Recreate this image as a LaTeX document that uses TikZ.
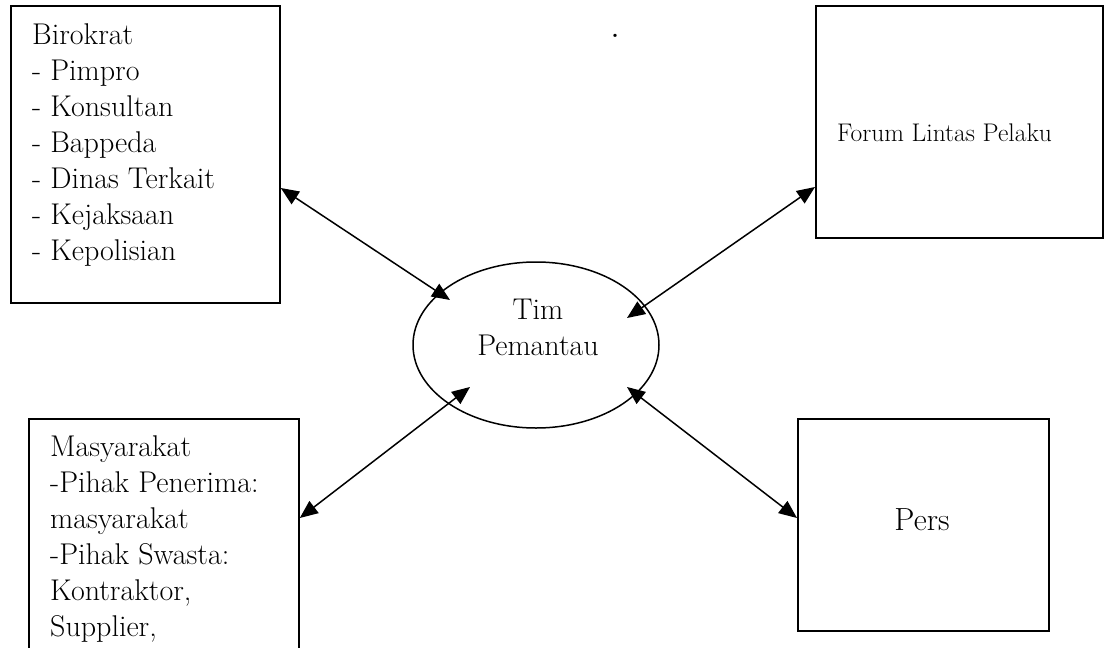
\documentclass[tikz,border=0pt]{standalone}
\usetikzlibrary{arrows.meta,shapes.geometric,calc}
\begin{document}
\begin{tikzpicture}[x=1pt,y=-1pt,
  box/.style={draw, line width=1.8pt, inner sep=0pt, anchor=north west},
  txt/.style={inner sep=0pt, align=left, font=\fontsize{30}{36}\selectfont},
  link/.style={line width=1.5pt, {Triangle[length=18pt,width=15pt]}-{Triangle[length=18pt,width=15pt]}}]
\useasboundingbox (0,0) rectangle (1104,648);
\clip (0,0) rectangle (1104,648);
\fill[white] (0,0) rectangle (1104,648);
% boxes
\node[box, minimum width=269pt, minimum height=297pt] (birokrat) at (10,5) {};
\node[box, minimum width=287pt, minimum height=232pt] (forum) at (815,5) {};
\node[box, minimum width=270pt, minimum height=260pt] (masy) at (28,418) {};
\node[box, minimum width=251pt, minimum height=212pt] (pers) at (797,418) {};
\node[draw, ellipse, line width=1.5pt, inner sep=0pt, minimum width=246pt, minimum height=166pt] (tim) at (536,345) {};
% texts
\node[txt, anchor=north west] (birtxt) at (32,23) {Birokrat\\- Pimpro\\- Konsultan\\- Bappeda\\- Dinas Terkait\\- Kejaksaan\\- Kepolisian};
\node[txt, anchor=north west] (masytxt) at (50,435) {Masyarakat\\-Pihak Penerima:\\masyarakat\\-Pihak Swasta:\\Kontraktor,\\Supplier,};
\node[inner sep=0pt, font=\fontsize{25.5}{30}\selectfont, anchor=base west] (forumtxt) at (837,141) {Forum Lintas Pelaku};
\node[txt, align=center, anchor=north] (timtxt) at (538,299) {Tim\\Pemantau};
\node[inner sep=0pt, font=\fontsize{32}{36}\selectfont, anchor=base] (perstxt) at (922,530) {Pers};
\node[inner sep=0pt, font=\fontsize{40}{40}\selectfont, anchor=base] (dot) at (615,37) {.};
% connectors
\coordinate (b1) at ($(birokrat.north east)+(0,183)$);
\coordinate (t1) at ($(tim.center)+(-86,-45)$);
\coordinate (b2) at ($(forum.north west)+(0,182)$);
\coordinate (t2) at ($(tim.center)+(91,-27)$);
\coordinate (b3) at ($(masy.north east)+(0,100)$);
\coordinate (t3) at ($(tim.center)+(-66,42)$);
\coordinate (b4) at ($(pers.north west)+(0,100)$);
\coordinate (t4) at ($(tim.center)+(91,42)$);
\draw[link] (b1) -- (t1);
\draw[link] (b2) -- (t2);
\draw[link] (b3) -- (t3);
\draw[link] (b4) -- (t4);
\end{tikzpicture}
\end{document}
